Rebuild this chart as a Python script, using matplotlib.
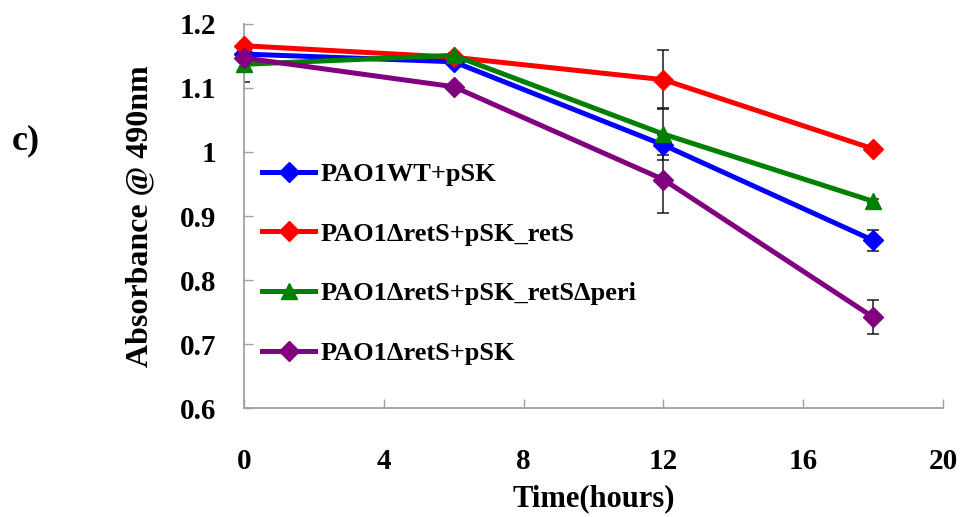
import matplotlib
matplotlib.use("Agg")
import matplotlib.pyplot as plt

plt.rcParams['font.family'] = ['Liberation Serif', 'DejaVu Serif']
plt.rcParams['font.weight'] = 'bold'

time = [0, 6, 12, 18]
labels = ["PAO1WT+pSK", "PAO1\u0394retS+pSK_retS", "PAO1\u0394retS+pSK_retS\u0394peri", "PAO1\u0394retS+pSK"]
wt = [1.153, 1.141, 1.011, 0.862]
wt_err = [0.005, 0.005, 0.016, 0.016]
rets = [1.166, 1.148, 1.113, 1.005]
rets_err = [0.004, 0.004, 0.046, 0.003]
peri = [1.137, 1.151, 1.028, 0.923]
peri_err = [0.028, 0.004, 0.040, 0.003]
pSK = [1.147, 1.102, 0.957, 0.742]
pSK_err = [0.004, 0.003, 0.052, 0.027]
colors = ["#0000ff", "#ff0000", "#008000", "#800080"]
markers = ["D", "D", "^", "D"]
xticks = [0, 4, 8, 12, 16, 20]
yticks = [0.6, 0.7, 0.8, 0.9, 1.0, 1.1, 1.2]
yticklabels = ["0.6", "0.7", "0.8", "0.9", "1", "1.1", "1.2"]

fig = plt.figure(figsize=(9.71, 5.17), dpi=100)
ax = fig.add_axes([0.2513, 0.2108, 0.7198, 0.7428])

series = [(wt, wt_err), (rets, rets_err), (peri, peri_err), (pSK, pSK_err)]
for (vals, errs) in series:
    ax.errorbar(time, vals, yerr=errs, fmt='none', ecolor='#1a1a1a', elinewidth=1.1,
                capsize=4.5, capthick=1.1, zorder=1)
for (vals, errs), c, m, lab in zip(series, colors, markers, labels):
    ms = 10.5 if m == "D" else 12
    ax.plot(time, vals, color=c, lw=3.6, marker=m, markersize=ms, label=lab,
            zorder=3, clip_on=False)

ax.set_xlim(0, 20)
ax.set_ylim(0.6, 1.2)
ax.set_xticks(xticks)
ax.set_yticks(yticks)
ax.set_yticklabels(yticklabels)
for s in ['top', 'right']:
    ax.spines[s].set_visible(False)
for s in ['left', 'bottom']:
    ax.spines[s].set_color('#a0a0a0')
    ax.spines[s].set_linewidth(1.3)
ax.tick_params(axis='both', direction='in', length=6.5, width=1.0, color='#a0a0a0', labelsize=21)
ax.tick_params(axis='x', pad=29)
ax.tick_params(axis='y', pad=20)
for t in ax.get_xticklabels() + ax.get_yticklabels():
    t.set_fontweight('bold')

ax.set_xlabel("Time(hours)", fontsize=22, fontweight='bold', va='center')
ax.xaxis.set_label_coords(0.5, -0.235)
ax.set_ylabel("Absorbance @ 490nm", fontsize=23, fontweight='bold', va='center')
ax.yaxis.set_label_coords(-0.149, 0.5)

leg = ax.legend(loc='upper left', bbox_to_anchor=(0.026, 0.639), frameon=False,
                prop={'size': 19, 'weight': 'bold'}, labelspacing=1.37,
                handlelength=2.0, handletextpad=0.2, borderaxespad=0.0, borderpad=0.0)

fig.text(0.012, 0.727, "c)", fontsize=26, fontweight='bold', ha='left', va='center')

fig.savefig("out.png", dpi=100)
